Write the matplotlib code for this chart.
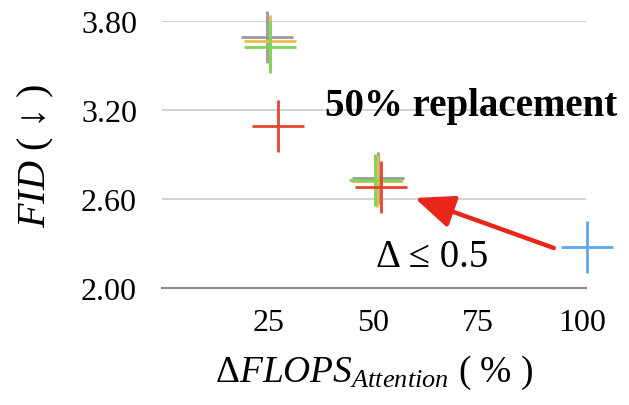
import matplotlib
matplotlib.use("Agg")
import matplotlib.pyplot as plt

plt.rcParams['font.family'] = ['Liberation Serif', 'DejaVu Serif']
plt.rcParams['mathtext.fontset'] = 'custom'
plt.rcParams['mathtext.rm'] = 'Liberation Serif'
plt.rcParams['mathtext.it'] = 'Liberation Serif:italic'

# valores
gris_x = [24.7, 51.3]
gris_y = [3.69, 2.74]
naranja_x = [25.4, 51.0]
naranja_y = [3.665, 2.72]
verde_x = [25.4, 50.6]
verde_y = [3.625, 2.73]
rojo_x = [27.3, 52.0]
rojo_y = [3.09, 2.68]
azul_x = [101.2]
azul_y = [2.28]

xticks = [25, 50, 75, 100]
yticks = [2.00, 2.60, 3.20, 3.80]

fig = plt.figure(figsize=(6.29, 4.06), dpi=100)
ax = fig.add_axes([0.2576, 0.288, 0.674, 0.658])

series = [
    (gris_x, gris_y, '#9b9b9b'),
    (naranja_x, naranja_y, '#f2b947'),
    (verde_x, verde_y, '#7dd456'),
    (rojo_x, rojo_y, '#e5452f'),
    (azul_x, azul_y, '#5ea7ee'),
]
for xs, ys, c in series:
    ax.plot(xs, ys, linestyle='none', marker='+', markersize=37,
            markeredgewidth=2.0, color=c, clip_on=False, zorder=3)

ax.set_xlim(-0.5, 101)
ax.set_ylim(2.0, 3.8)
ax.set_xticks(xticks)
ax.set_xticklabels([str(v) for v in xticks])
ax.set_yticks(yticks)
ax.set_yticklabels([f'{v:.2f}' for v in yticks])
ax.tick_params(axis='both', length=0, labelsize=23)
ax.tick_params(axis='y', pad=18)
ax.tick_params(axis='x', pad=14)

for s in ['top', 'right', 'left']:
    ax.spines[s].set_visible(False)
ax.spines['bottom'].set_color('#8a8a8a')
ax.spines['bottom'].set_linewidth(1.5)
ax.yaxis.grid(True, color='#d0d0d0', linewidth=1.3)
ax.set_axisbelow(True)

ax.set_ylabel(r'$\mathit{FID}$ ( ↓ )', fontsize=29, labelpad=18)
ax.set_xlabel(r'$\Delta\mathit{FLOPS}_{\mathit{Attention}}$ ( % )', fontsize=27, labelpad=12)

ax.text(38.4, 3.227, '50% replacement', fontsize=28, fontweight='bold',
        ha='left', va='center')
ax.text(50.8, 2.215, 'Δ ≤ 0.5', fontsize=28, ha='left', va='center')

ax.annotate('', xy=(60.0, 2.607), xytext=(93.3, 2.27),
            arrowprops=dict(arrowstyle='-|>,head_length=1.2,head_width=0.5',
                            mutation_scale=20, color='#e8261a', lw=3.2,
                            shrinkA=0, shrinkB=0))

fig.savefig('out.png', dpi=100)
